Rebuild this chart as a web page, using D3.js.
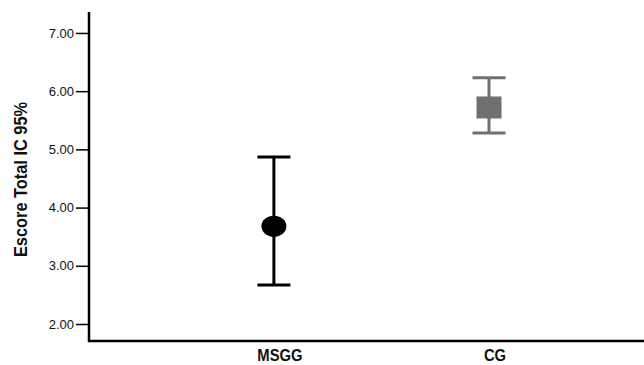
<!DOCTYPE html>
<html>
<head>
<meta charset="utf-8">
<script src="https://cdn.jsdelivr.net/npm/d3@7"></script>
<style>
  body { margin: 0; background: #fff; }
  text { font-family: "Liberation Sans", Arial, sans-serif; }
</style>
</head>
<body>
<div id="chart"></div>
<script>
// data
var groups = ["MSGG", "CG"];
var means = [3.68, 5.72];
var lower = [2.67, 5.28];
var upper = [4.87, 6.23];
var yTicks = [2, 3, 4, 5, 6, 7];
var yTitle = "Escore Total IC 95%";

function init() {
    var w = 644;
    var h = 365;
    var left = 89, right = 644, top = 12, bottom = 341;

    var svg = d3.select("#chart")
        .append("svg")
        .attr("width", w)
        .attr("height", h);

    var x = d3.scalePoint()
        .domain(groups)
        .range([left, right])
        .padding(0.79)
        .align(0.544);

    var y = d3.scaleLinear()
        .domain([1.708, 7.36])
        .range([bottom, top]);

    // y axis
    var yAxis = svg.append("g")
        .attr("transform", "translate(" + left + ",0)")
        .call(d3.axisLeft(y).tickValues(yTicks).tickFormat(d3.format(".2f")).tickSize(13).tickPadding(2));
    yAxis.select(".domain").remove();
    yAxis.selectAll(".tick line").attr("stroke", "#000").attr("stroke-width", 1.5);
    yAxis.selectAll(".tick text")
        .attr("font-size", 13)
        .attr("font-family", "Liberation Sans, Arial, sans-serif")
        .attr("fill", "#111");

    // axis lines
    svg.append("line")
        .attr("x1", left).attr("x2", left)
        .attr("y1", top).attr("y2", bottom + 1)
        .attr("stroke", "#000").attr("stroke-width", 2.5);
    svg.append("line")
        .attr("x1", left - 1).attr("x2", right)
        .attr("y1", bottom).attr("y2", bottom)
        .attr("stroke", "#000").attr("stroke-width", 2.5);

    // x labels (condensed bold)
    svg.selectAll("text.xlab")
        .data(groups)
        .enter()
        .append("text")
        .attr("class", "xlab")
        .attr("transform", function(d) { return "translate(" + (x(d) + 6) + ",361) scale(0.87,1)"; })
        .attr("text-anchor", "middle")
        .attr("font-size", 17)
        .attr("font-weight", "bold")
        .attr("fill", "#111")
        .text(function(d) { return d; });

    // y title
    svg.append("text")
        .attr("transform", "translate(27,179.5) rotate(-90) scale(0.91,1)")
        .attr("text-anchor", "middle")
        .attr("font-size", 18)
        .attr("font-weight", "bold")
        .attr("fill", "#111")
        .text(yTitle);

    var colors = ["#000000", "#707070"];
    var capHalf = 16.5;

    var g = svg.selectAll("g.bar")
        .data(groups)
        .enter()
        .append("g")
        .attr("class", "bar");

    g.append("line")
        .attr("x1", function(d) { return x(d); })
        .attr("x2", function(d) { return x(d); })
        .attr("y1", function(d, i) { return y(upper[i]); })
        .attr("y2", function(d, i) { return y(lower[i]); })
        .attr("stroke", function(d, i) { return colors[i]; })
        .attr("stroke-width", 3);

    g.append("line")
        .attr("x1", function(d) { return x(d) - capHalf; })
        .attr("x2", function(d) { return x(d) + capHalf; })
        .attr("y1", function(d, i) { return y(upper[i]); })
        .attr("y2", function(d, i) { return y(upper[i]); })
        .attr("stroke", function(d, i) { return colors[i]; })
        .attr("stroke-width", 3);

    g.append("line")
        .attr("x1", function(d) { return x(d) - capHalf; })
        .attr("x2", function(d) { return x(d) + capHalf; })
        .attr("y1", function(d, i) { return y(lower[i]); })
        .attr("y2", function(d, i) { return y(lower[i]); })
        .attr("stroke", function(d, i) { return colors[i]; })
        .attr("stroke-width", 3);

    // mean markers: circle for MSGG, square for CG
    svg.append("ellipse")
        .attr("cx", x(groups[0]))
        .attr("cy", y(means[0]))
        .attr("rx", 12.5)
        .attr("ry", 10.5)
        .attr("fill", colors[0]);

    svg.append("rect")
        .attr("x", x(groups[1]) - 12.5)
        .attr("y", y(means[1]) - 11)
        .attr("width", 25)
        .attr("height", 22)
        .attr("fill", colors[1]);
}
window.onload = init;
</script>
</body>
</html>
